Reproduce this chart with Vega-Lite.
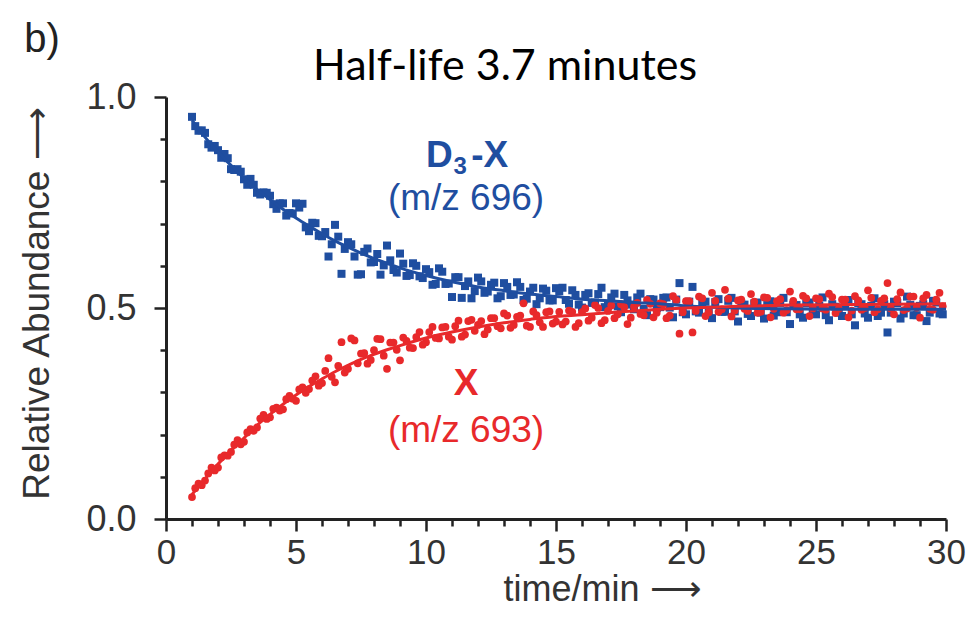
{
  "$schema": "https://vega.github.io/schema/vega-lite/v6.json",
  "width": 780,
  "height": 422,
  "autosize": {"type": "none"},
  "padding": {"left": 166, "top": 97, "right": 28, "bottom": 99},
  "background": "white",
  "config": {"view": {"stroke": null}, "axis": {"labelOverlap": false}},
  "datasets": {
    "obs": [
      {"t":1.0,"b":0.953,"r":0.052},{"t":1.25,"b":0.920,"r":0.084},{"t":1.5,"b":0.915,"r":0.091},{"t":1.75,"b":0.880,"r":0.122},
      {"t":2.0,"b":0.874,"r":0.122},{"t":2.25,"b":0.865,"r":0.151},{"t":2.5,"b":0.829,"r":0.159},{"t":2.75,"b":0.829,"r":0.187},
      {"t":3.0,"b":0.805,"r":0.183},{"t":3.25,"b":0.806,"r":0.213},{"t":3.5,"b":0.773,"r":0.217},{"t":3.75,"b":0.774,"r":0.247},
      {"t":4.0,"b":0.766,"r":0.241},{"t":4.25,"b":0.735,"r":0.264},{"t":4.5,"b":0.748,"r":0.260},{"t":4.75,"b":0.725,"r":0.292},
      {"t":5.0,"b":0.748,"r":0.280},{"t":5.25,"b":0.747,"r":0.312},{"t":5.5,"b":0.682,"r":0.308},{"t":5.75,"b":0.701,"r":0.338},
      {"t":6.0,"b":0.670,"r":0.322},{"t":6.25,"b":0.622,"r":0.381},{"t":6.5,"b":0.697,"r":0.324},{"t":6.75,"b":0.581,"r":0.419},
      {"t":7.0,"b":0.656,"r":0.356},{"t":7.25,"b":0.622,"r":0.423},{"t":7.5,"b":0.580,"r":0.392},{"t":7.75,"b":0.641,"r":0.368},
      {"t":8.0,"b":0.609,"r":0.400},{"t":8.25,"b":0.579,"r":0.426},{"t":8.5,"b":0.648,"r":0.356},{"t":8.75,"b":0.590,"r":0.418},
      {"t":9.0,"b":0.629,"r":0.376},{"t":9.25,"b":0.576,"r":0.422},{"t":9.5,"b":0.606,"r":0.405},{"t":9.75,"b":0.575,"r":0.443},
      {"t":10.0,"b":0.592,"r":0.419},{"t":10.25,"b":0.555,"r":0.455},{"t":10.5,"b":0.594,"r":0.428},{"t":10.75,"b":0.557,"r":0.455},
      {"t":11.0,"b":0.526,"r":0.425},{"t":11.25,"b":0.573,"r":0.470},{"t":11.5,"b":0.552,"r":0.437},{"t":11.75,"b":0.523,"r":0.472},
      {"t":12.0,"b":0.572,"r":0.460},{"t":12.25,"b":0.536,"r":0.438},{"t":12.5,"b":0.555,"r":0.476},{"t":12.75,"b":0.523,"r":0.457},
      {"t":13.0,"b":0.559,"r":0.487},{"t":13.25,"b":0.531,"r":0.453},{"t":13.5,"b":0.561,"r":0.479},{"t":13.75,"b":0.519,"r":0.511},
      {"t":14.0,"b":0.539,"r":0.455},{"t":14.25,"b":0.509,"r":0.483},{"t":14.5,"b":0.546,"r":0.455},{"t":14.75,"b":0.518,"r":0.492},
      {"t":15.0,"b":0.547,"r":0.468},{"t":15.25,"b":0.548,"r":0.461},{"t":15.5,"b":0.510,"r":0.494},{"t":15.75,"b":0.531,"r":0.455},
      {"t":16.0,"b":0.501,"r":0.490},{"t":16.25,"b":0.535,"r":0.470},{"t":16.5,"b":0.513,"r":0.507},{"t":16.75,"b":0.548,"r":0.464},
      {"t":17.0,"b":0.505,"r":0.493},{"t":17.25,"b":0.534,"r":0.476},{"t":17.5,"b":0.490,"r":0.509},{"t":17.75,"b":0.518,"r":0.462},
      {"t":18.0,"b":0.497,"r":0.503},{"t":18.25,"b":0.534,"r":0.486},{"t":18.5,"b":0.483,"r":0.519},{"t":18.75,"b":0.520,"r":0.478},
      {"t":19.0,"b":0.502,"r":0.511},{"t":19.25,"b":0.525,"r":0.476},{"t":19.5,"b":0.478,"r":0.528},{"t":19.75,"b":0.559,"r":0.439},
      {"t":20.0,"b":0.485,"r":0.516},{"t":20.25,"b":0.550,"r":0.442},{"t":20.5,"b":0.489,"r":0.527},{"t":20.75,"b":0.515,"r":0.481},
      {"t":21.0,"b":0.476,"r":0.536},{"t":21.25,"b":0.521,"r":0.491},{"t":21.5,"b":0.491,"r":0.543},{"t":21.75,"b":0.524,"r":0.480},
      {"t":22.0,"b":0.468,"r":0.518},{"t":22.25,"b":0.508,"r":0.498},{"t":22.5,"b":0.481,"r":0.533},{"t":22.75,"b":0.513,"r":0.489},
      {"t":23.0,"b":0.475,"r":0.525},{"t":23.25,"b":0.516,"r":0.478},{"t":23.5,"b":0.490,"r":0.516},{"t":23.75,"b":0.524,"r":0.489},
      {"t":24.0,"b":0.462,"r":0.539},{"t":24.25,"b":0.507,"r":0.497},{"t":24.5,"b":0.477,"r":0.529},{"t":24.75,"b":0.513,"r":0.481},
      {"t":25.0,"b":0.485,"r":0.523},{"t":25.25,"b":0.525,"r":0.499},{"t":25.5,"b":0.471,"r":0.534},{"t":25.75,"b":0.503,"r":0.488},
      {"t":26.0,"b":0.481,"r":0.520},{"t":26.25,"b":0.519,"r":0.478},{"t":26.5,"b":0.459,"r":0.528},{"t":26.75,"b":0.509,"r":0.496},
      {"t":27.0,"b":0.477,"r":0.542},{"t":27.25,"b":0.523,"r":0.490},{"t":27.5,"b":0.489,"r":0.517},{"t":27.75,"b":0.442,"r":0.559},
      {"t":28.0,"b":0.515,"r":0.485},{"t":28.25,"b":0.475,"r":0.537},{"t":28.5,"b":0.527,"r":0.499},{"t":28.75,"b":0.483,"r":0.527},
      {"t":29.0,"b":0.505,"r":0.477},{"t":29.25,"b":0.469,"r":0.531},{"t":29.5,"b":0.517,"r":0.496},{"t":29.75,"b":0.487,"r":0.536},
      {"t":1.125,"b":0.931,"r":0.073},{"t":1.375,"b":0.921,"r":0.080},{"t":1.625,"b":0.888,"r":0.108},{"t":1.875,"b":0.884,"r":0.115},
      {"t":2.125,"b":0.856,"r":0.146},{"t":2.375,"b":0.855,"r":0.150},{"t":2.625,"b":0.827,"r":0.176},{"t":2.875,"b":0.823,"r":0.177},
      {"t":3.125,"b":0.792,"r":0.205},{"t":3.375,"b":0.792,"r":0.209},{"t":3.625,"b":0.769,"r":0.238},{"t":3.875,"b":0.773,"r":0.237},
      {"t":4.125,"b":0.746,"r":0.261},{"t":4.375,"b":0.748,"r":0.257},{"t":4.625,"b":0.719,"r":0.284},{"t":4.875,"b":0.724,"r":0.285},
      {"t":5.125,"b":0.738,"r":0.307},{"t":5.375,"b":0.691,"r":0.299},{"t":5.625,"b":0.702,"r":0.328},{"t":5.875,"b":0.671,"r":0.316},
      {"t":6.125,"b":0.680,"r":0.351},{"t":6.375,"b":0.651,"r":0.337},{"t":6.625,"b":0.669,"r":0.363},{"t":6.875,"b":0.640,"r":0.347},
      {"t":7.125,"b":0.651,"r":0.428},{"t":7.375,"b":0.579,"r":0.369},{"t":7.625,"b":0.633,"r":0.393},{"t":7.875,"b":0.608,"r":0.377},
      {"t":8.125,"b":0.628,"r":0.427},{"t":8.375,"b":0.601,"r":0.387},{"t":8.625,"b":0.613,"r":0.418},{"t":8.875,"b":0.584,"r":0.401},
      {"t":9.125,"b":0.605,"r":0.430},{"t":9.375,"b":0.578,"r":0.406},{"t":9.625,"b":0.600,"r":0.431},{"t":9.875,"b":0.571,"r":0.413},
      {"t":10.125,"b":0.585,"r":0.443},{"t":10.375,"b":0.557,"r":0.429},{"t":10.625,"b":0.586,"r":0.454},{"t":10.875,"b":0.558,"r":0.432},
      {"t":11.125,"b":0.573,"r":0.457},{"t":11.375,"b":0.524,"r":0.432},{"t":11.625,"b":0.563,"r":0.469},{"t":11.875,"b":0.540,"r":0.446},
      {"t":12.125,"b":0.563,"r":0.469},{"t":12.375,"b":0.539,"r":0.449},{"t":12.625,"b":0.560,"r":0.476},{"t":12.875,"b":0.528,"r":0.452},
      {"t":13.125,"b":0.550,"r":0.482},{"t":13.375,"b":0.532,"r":0.460},{"t":13.625,"b":0.550,"r":0.482},{"t":13.875,"b":0.522,"r":0.458},
      {"t":14.125,"b":0.548,"r":0.492},{"t":14.375,"b":0.523,"r":0.466},{"t":14.625,"b":0.541,"r":0.490},{"t":14.875,"b":0.518,"r":0.463},
      {"t":15.125,"b":0.540,"r":0.491},{"t":15.375,"b":0.519,"r":0.468},{"t":15.625,"b":0.542,"r":0.491},{"t":15.875,"b":0.508,"r":0.464},
      {"t":16.125,"b":0.531,"r":0.499},{"t":16.375,"b":0.512,"r":0.477},{"t":16.625,"b":0.533,"r":0.500},{"t":16.875,"b":0.502,"r":0.471},
      {"t":17.125,"b":0.525,"r":0.506},{"t":17.375,"b":0.504,"r":0.485},{"t":17.625,"b":0.531,"r":0.502},{"t":17.875,"b":0.508,"r":0.477},
      {"t":18.125,"b":0.525,"r":0.512},{"t":18.375,"b":0.498,"r":0.483},{"t":18.625,"b":0.521,"r":0.510},{"t":18.875,"b":0.500,"r":0.489},
      {"t":19.125,"b":0.524,"r":0.509},{"t":19.375,"b":0.501,"r":0.482},{"t":19.625,"b":0.520,"r":0.519},{"t":19.875,"b":0.490,"r":0.490},
      {"t":20.125,"b":0.515,"r":0.516},{"t":20.375,"b":0.492,"r":0.493},{"t":20.625,"b":0.511,"r":0.523},{"t":20.875,"b":0.489,"r":0.490},
      {"t":21.125,"b":0.514,"r":0.517},{"t":21.375,"b":0.491,"r":0.497},{"t":21.625,"b":0.517,"r":0.522},{"t":21.875,"b":0.492,"r":0.494},
      {"t":22.125,"b":0.510,"r":0.520},{"t":22.375,"b":0.486,"r":0.493},{"t":22.625,"b":0.511,"r":0.515},{"t":22.875,"b":0.489,"r":0.491},
      {"t":23.125,"b":0.507,"r":0.524},{"t":23.375,"b":0.482,"r":0.498},{"t":23.625,"b":0.512,"r":0.521},{"t":23.875,"b":0.490,"r":0.495},
      {"t":24.125,"b":0.507,"r":0.517},{"t":24.375,"b":0.485,"r":0.497},{"t":24.625,"b":0.511,"r":0.523},{"t":24.875,"b":0.487,"r":0.499},
      {"t":25.125,"b":0.505,"r":0.521},{"t":25.375,"b":0.483,"r":0.496},{"t":25.625,"b":0.509,"r":0.526},{"t":25.875,"b":0.489,"r":0.498},
      {"t":26.125,"b":0.507,"r":0.520},{"t":26.375,"b":0.485,"r":0.494},{"t":26.625,"b":0.511,"r":0.518},{"t":26.875,"b":0.487,"r":0.500},
      {"t":27.125,"b":0.505,"r":0.524},{"t":27.375,"b":0.481,"r":0.497},{"t":27.625,"b":0.509,"r":0.523},{"t":27.875,"b":0.489,"r":0.499},
      {"t":28.125,"b":0.511,"r":0.521},{"t":28.375,"b":0.487,"r":0.495},{"t":28.625,"b":0.507,"r":0.527},{"t":28.875,"b":0.483,"r":0.501},
      {"t":29.125,"b":0.509,"r":0.523},{"t":29.375,"b":0.489,"r":0.498},{"t":29.625,"b":0.513,"r":0.520},{"t":29.875,"b":0.485,"r":0.504}
    ],
    "fit": [
      {"t":1.0,"fb":0.945,"fr":0.058},{"t":1.5,"fb":0.905,"fr":0.095},{"t":2.0,"fb":0.870,"fr":0.130},{"t":2.5,"fb":0.838,"fr":0.162},
      {"t":3.0,"fb":0.808,"fr":0.192},{"t":3.5,"fb":0.781,"fr":0.222},{"t":4.0,"fb":0.757,"fr":0.248},{"t":4.5,"fb":0.734,"fr":0.272},
      {"t":5.0,"fb":0.713,"fr":0.294},{"t":5.5,"fb":0.694,"fr":0.314},{"t":6.0,"fb":0.676,"fr":0.332},{"t":6.5,"fb":0.659,"fr":0.349},
      {"t":7.0,"fb":0.644,"fr":0.364},{"t":7.5,"fb":0.630,"fr":0.378},{"t":8.0,"fb":0.617,"fr":0.390},{"t":8.5,"fb":0.606,"fr":0.401},
      {"t":9.0,"fb":0.595,"fr":0.411},{"t":10,"fb":0.577,"fr":0.429},{"t":11,"fb":0.562,"fr":0.443},{"t":12,"fb":0.550,"fr":0.455},
      {"t":13,"fb":0.541,"fr":0.465},{"t":14,"fb":0.533,"fr":0.473},{"t":15,"fb":0.527,"fr":0.480},{"t":16,"fb":0.521,"fr":0.484},
      {"t":17,"fb":0.517,"fr":0.489},{"t":18,"fb":0.513,"fr":0.493},{"t":19,"fb":0.510,"fr":0.497},{"t":20,"fb":0.505,"fr":0.500},
      {"t":21,"fb":0.502,"fr":0.502},{"t":22,"fb":0.500,"fr":0.504},{"t":24,"fb":0.498,"fr":0.507},{"t":26,"fb":0.497,"fr":0.508},
      {"t":28,"fb":0.497,"fr":0.509},{"t":30,"fb":0.497,"fr":0.510}
    ]
  },
  "encoding": {
    "x": {
      "field": "t", "type": "quantitative", "title": "time/min ⟶",
      "scale": {"domain": [0, 30], "nice": false, "zero": true},
      "axis": {
        "values": [0,1,2,3,4,5,6,7,8,9,10,11,12,13,14,15,16,17,18,19,20,21,22,23,24,25,26,27,28,29,30],
        "labelExpr": "indexof([0,5,10,15,20,25,30], datum.value) >= 0 ? datum.label : ''",
        "tickSize": {"condition": {"test": "indexof([0,5,10,15,20,25,30], datum.value) >= 0", "value": 12}, "value": 7},
        "grid": false, "domainWidth": 3, "domainColor": "#222222", "tickWidth": 2.5, "tickColor": "#222222",
        "labelFont": "Liberation Sans", "labelFontSize": 35, "labelColor": "#333333", "labelPadding": 4, "labelFlush": false, "labelOverlap": false,
        "titleFont": "Liberation Sans", "titleFontSize": 36, "titleFontWeight": "normal", "titleColor": "#333333",
        "titleX": 436, "titleY": 81, "titleAlign": "center", "titleBaseline": "alphabetic"
      }
    }
  },
  "layer": [
    {
      "data": {"name": "obs"},
      "mark": {"type": "square", "size": 64, "filled": true, "opacity": 1, "color": "#1f4ea0"},
      "encoding": {
        "y": {
          "field": "b", "type": "quantitative", "title": "Relative Abundance ⟶",
          "scale": {"domain": [0, 1], "nice": false},
          "axis": {
            "values": [0,0.1,0.2,0.3,0.4,0.5,0.6,0.7,0.8,0.9,1],
            "labelExpr": "(datum.value == 0 || datum.value == 0.5 || datum.value == 1) ? format(datum.value, '.1f') : ''",
            "tickSize": {"condition": {"test": "datum.value == 0 || datum.value == 0.5 || datum.value == 1", "value": 12}, "value": 6},
            "grid": false, "domainWidth": 3, "domainColor": "#222222", "tickWidth": 2.5, "tickColor": "#222222",
            "labelFont": "Liberation Sans", "labelFontSize": 36, "labelColor": "#333333", "labelPadding": 18, "labelFlush": false, "labelOverlap": false,
            "titleFont": "Liberation Sans", "titleFontSize": 37, "titleFontWeight": "normal", "titleColor": "#333333",
            "titleAngle": -90, "titleX": -118, "titleY": 206, "titleAlign": "center", "titleBaseline": "alphabetic"
          }
        }
      }
    },
    {
      "data": {"name": "obs"},
      "mark": {"type": "circle", "size": 60, "opacity": 1, "color": "#e8292b"},
      "encoding": {
        "y": {"field": "r", "type": "quantitative", "title": "Relative Abundance ⟶"}
      }
    },
    {
      "data": {"name": "fit"},
      "mark": {"type": "line", "color": "#1f4ea0", "strokeWidth": 3, "interpolate": "monotone"},
      "encoding": {
        "y": {"field": "fb", "type": "quantitative", "title": "Relative Abundance ⟶"}
      }
    },
    {
      "data": {"name": "fit"},
      "mark": {"type": "line", "color": "#e8292b", "strokeWidth": 3, "interpolate": "monotone"},
      "encoding": {
        "y": {"field": "fr", "type": "quantitative", "title": "Relative Abundance ⟶"}
      }
    },
    {
      "data": {"values": [{"t": 10.0, "y": 0.834, "text": "D"}, {"t": 11.74, "y": 0.834, "text": "-X"}]},
      "mark": {"type": "text", "align": "left", "baseline": "alphabetic", "font": "Liberation Sans", "fontWeight": "bold", "fontSize": 37, "color": "#1f4ea0"},
      "encoding": {
        "y": {"field": "y", "type": "quantitative", "title": "Relative Abundance ⟶"},
        "text": {"field": "text"}
      }
    },
    {
      "data": {"values": [{"t": 11.06, "y": 0.818, "text": "3"}]},
      "mark": {"type": "text", "align": "left", "baseline": "alphabetic", "font": "Liberation Sans", "fontWeight": "bold", "fontSize": 24, "color": "#1f4ea0"},
      "encoding": {
        "y": {"field": "y", "type": "quantitative", "title": "Relative Abundance ⟶"},
        "text": {"field": "text"}
      }
    },
    {
      "data": {"values": [{"t": 11.54, "y": 0.732, "text": "(m/z 696)"}]},
      "mark": {"type": "text", "align": "center", "baseline": "alphabetic", "font": "Liberation Sans", "fontSize": 37, "color": "#1f4ea0"},
      "encoding": {
        "y": {"field": "y", "type": "quantitative", "title": "Relative Abundance ⟶"},
        "text": {"field": "text"}
      }
    },
    {
      "data": {"values": [{"t": 11.54, "y": 0.294, "text": "X"}]},
      "mark": {"type": "text", "align": "center", "baseline": "alphabetic", "font": "Liberation Sans", "fontWeight": "bold", "fontSize": 37, "color": "#e8292b"},
      "encoding": {
        "y": {"field": "y", "type": "quantitative", "title": "Relative Abundance ⟶"},
        "text": {"field": "text"}
      }
    },
    {
      "data": {"values": [{"t": 11.54, "y": 0.182, "text": "(m/z 693)"}]},
      "mark": {"type": "text", "align": "center", "baseline": "alphabetic", "font": "Liberation Sans", "fontSize": 37, "color": "#e8292b"},
      "encoding": {
        "y": {"field": "y", "type": "quantitative", "title": "Relative Abundance ⟶"},
        "text": {"field": "text"}
      }
    },
    {
      "data": {"values": [{"t": 13.04, "y": 1.04, "text": "Half-life 3.7 minutes"}]},
      "mark": {"type": "text", "align": "center", "baseline": "alphabetic", "font": "Lato", "fontSize": 43, "color": "#000000"},
      "encoding": {
        "y": {"field": "y", "type": "quantitative", "title": "Relative Abundance ⟶"},
        "text": {"field": "text"}
      }
    },
    {
      "data": {"values": [{"t": -4.77, "y": 1.107, "text": "b)"}]},
      "mark": {"type": "text", "align": "center", "baseline": "alphabetic", "font": "Liberation Sans", "fontSize": 40, "color": "#222222"},
      "encoding": {
        "y": {"field": "y", "type": "quantitative", "title": "Relative Abundance ⟶"},
        "text": {"field": "text"}
      }
    }
  ]
}
